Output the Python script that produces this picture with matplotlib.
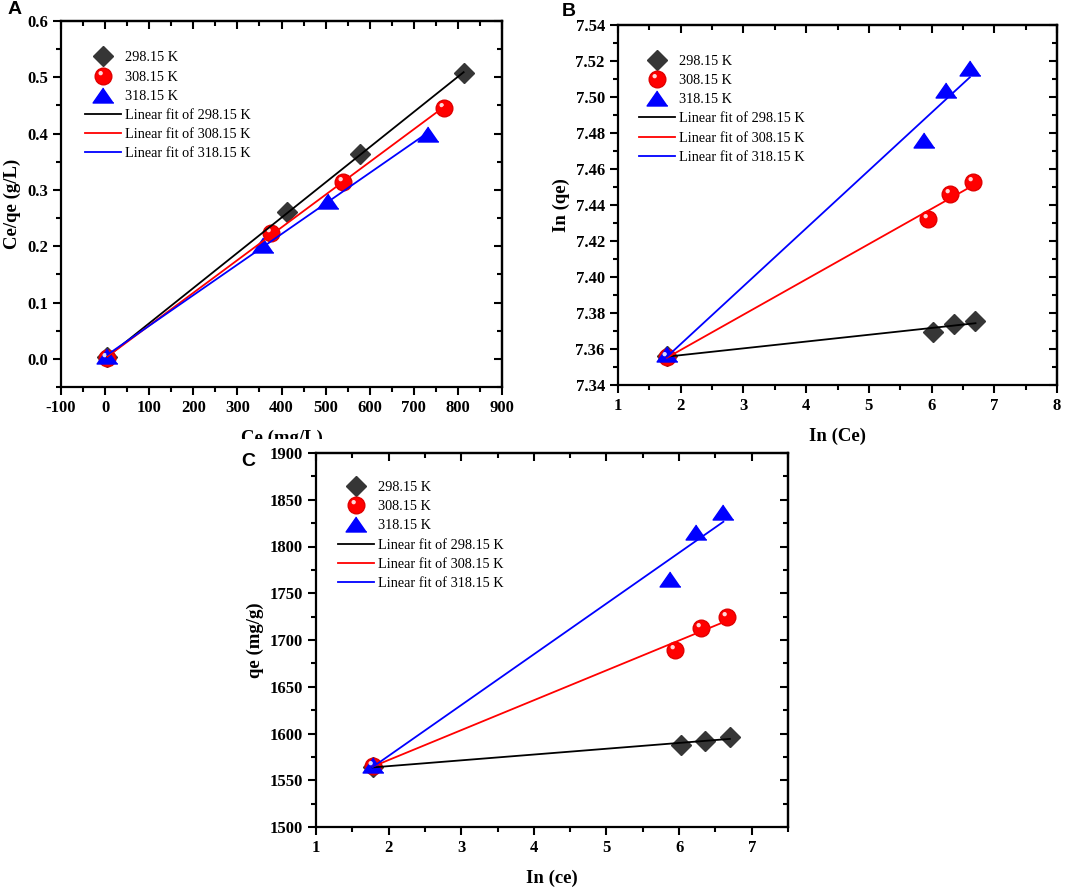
import numpy as np
import matplotlib
matplotlib.use('Agg')
import matplotlib.pyplot as plt
from matplotlib.path import Path
from matplotlib.patches import Rectangle
from matplotlib.ticker import MultipleLocator, FormatStrFormatter

plt.rcParams['font.family'] = ['Liberation Serif', 'DejaVu Serif']
plt.rcParams['font.weight'] = 'bold'
plt.rcParams['axes.labelweight'] = 'bold'
plt.rcParams['axes.unicode_minus'] = False

labels = ['298.15 K', '308.15 K', '318.15 K']
fit_labels = ['Linear fit of 298.15 K', 'Linear fit of 308.15 K', 'Linear fit of 318.15 K']

# panel A: Ce/qe vs Ce
ce_298 = [5, 413, 578, 813]
ceqe_298 = [0.003, 0.260, 0.363, 0.508]
ce_308 = [5, 377, 539, 769]
ceqe_308 = [0.002, 0.224, 0.314, 0.446]
ce_318 = [5, 357, 506, 733]
ceqe_318 = [0.005, 0.202, 0.280, 0.400]

# panel B / C: ln(Ce)
lnce_298 = [1.78, 6.03, 6.36, 6.70]
lnce_308 = [1.78, 5.94, 6.30, 6.655]
lnce_318 = [1.78, 5.88, 6.23, 6.61]
lnqe_298 = [7.356, 7.3696, 7.3737, 7.3756]
lnqe_308 = [7.3557, 7.432, 7.4459, 7.4528]
lnqe_318 = [7.357, 7.476, 7.5039, 7.5159]
qe_298 = [1564, 1588, 1592.3, 1595.9]
qe_308 = [1565.6, 1689, 1712.5, 1724.6]
qe_318 = [1566.7, 1765, 1815, 1836.5]

W, H = 1072, 890
fig = plt.figure(figsize=(W / 100, H / 100), dpi=100)


def px_axes(l, t, r, b):
    return fig.add_axes([l / W, 1 - b / H, (r - l) / W, (b - t) / H])


# shiny highlight marker for the red spheres
circ = Path.circle(center=(-0.17, 0.2), radius=0.13)
hl_path = Path(np.vstack([[0.5, 0.5], circ.vertices]),
               np.concatenate([[Path.MOVETO], circ.codes]))
tri = [(0, 0.72), (-1, -0.72), (1, -0.72)]


def panel(ax, xs, ys, leg_xy):
    p1, = ax.plot(xs[0], ys[0], linestyle='none', marker='D', ms=10.5,
                  color='#363636', zorder=3)
    p2, = ax.plot(xs[1], ys[1], linestyle='none', marker='o', ms=12,
                  color='#ff0000', mec='#e00000', zorder=3)
    p2h, = ax.plot(xs[1], ys[1], linestyle='none', marker=hl_path, ms=12,
                   mfc='white', mec='none', alpha=0.85, zorder=3.1)
    p3, = ax.plot(xs[2], ys[2], linestyle='none', marker=tri, ms=15,
                  color='#0000ff', zorder=3)
    h = [p1, (p2, p2h), p3]
    for x, y, c in zip(xs, ys, ['black', 'red', 'blue']):
        k, b0 = np.polyfit(x, y, 1)
        xx = np.array([min(x), max(x)])
        ln, = ax.plot(xx, k * xx + b0, color=c, lw=1.3, zorder=4)
        h.append(ln)
    ax.legend(h, labels + fit_labels, loc='upper left', bbox_to_anchor=leg_xy,
              frameon=False, borderpad=0, borderaxespad=0, handlelength=2.5,
              handletextpad=0.3, labelspacing=0.43,
              prop={'family': 'Liberation Serif', 'weight': 'normal', 'size': 10.3})
    for s in ax.spines.values():
        s.set_linewidth(1.6)
    ax.tick_params(which='both', width=1.5, labelsize=12)
    ax.tick_params(which='major', length=6)
    ax.tick_params(which='minor', length=3.5)
    ax.tick_params(which='both', left=True, bottom=True, direction='out')
    # inward ticks on top and right
    sec_x = ax.secondary_xaxis('top')
    sec_y = ax.secondary_yaxis('right')
    for sec in (sec_x, sec_y):
        sec.tick_params(which='both', direction='in', width=1.5, labelsize=0)
        sec.tick_params(which='major', length=6)
        sec.tick_params(which='minor', length=3.5)
        for s in sec.spines.values():
            s.set_linewidth(1.6)
    return sec_x, sec_y


def set_ticks(ax, secs, xmaj, xmin, ymaj, ymin):
    ax.xaxis.set_major_locator(MultipleLocator(xmaj))
    ax.xaxis.set_minor_locator(MultipleLocator(xmin))
    ax.yaxis.set_major_locator(MultipleLocator(ymaj))
    ax.yaxis.set_minor_locator(MultipleLocator(ymin))
    secs[0].xaxis.set_major_locator(MultipleLocator(xmaj))
    secs[0].xaxis.set_minor_locator(MultipleLocator(xmin))
    secs[1].yaxis.set_major_locator(MultipleLocator(ymaj))
    secs[1].yaxis.set_minor_locator(MultipleLocator(ymin))
    secs[0].set_xticklabels([])
    secs[1].set_yticklabels([])


# A
axA = px_axes(61, 21, 502, 387)
secs = panel(axA, [ce_298, ce_308, ce_318], [ceqe_298, ceqe_308, ceqe_318], (0.054, 0.917))
axA.set_xlim(-100, 900)
axA.set_ylim(-0.05, 0.6)
set_ticks(axA, secs, 100, 50, 0.1, 0.05)
axA.yaxis.set_major_formatter(FormatStrFormatter('%.1f'))
axA.set_ylabel('Ce/qe (g/L)', fontsize=13.5, labelpad=4)
axA.set_xlabel('Ce (mg/L)', fontsize=13.5, labelpad=10)

# B
axB = px_axes(618, 25, 1057, 385)
secs = panel(axB, [lnce_298, lnce_308, lnce_318], [lnqe_298, lnqe_308, lnqe_318], (0.048, 0.917))
axB.set_xlim(1, 8)
axB.set_ylim(7.34, 7.54)
set_ticks(axB, secs, 1, 0.5, 0.02, 0.01)
axB.yaxis.set_major_formatter(FormatStrFormatter('%.2f'))
axB.set_ylabel('In (qe)', fontsize=13.5, labelpad=4)
axB.set_xlabel('In (Ce)', fontsize=13.5, labelpad=10)

# white block where panel C was pasted over the A label
fig.patches.append(Rectangle((220 / W, 0), (800 - 220) / W, 1 - 439 / H,
                             transform=fig.transFigure, facecolor='white',
                             edgecolor='none', zorder=0.5))

# C
axC = px_axes(316, 453, 788, 827)
axC.set_zorder(1)
secs = panel(axC, [lnce_298, lnce_308, lnce_318], [qe_298, qe_308, qe_318], (0.047, 0.925))
axC.set_xlim(1, 7.5)
axC.set_ylim(1500, 1900)
set_ticks(axC, secs, 1, 0.5, 50, 25)
axC.set_ylabel('qe (mg/g)', fontsize=13.5, labelpad=4)
axC.set_xlabel('In (ce)', fontsize=13.5, labelpad=10)

for s, x, y in [('A', 8, 10), ('B', 562, 12), ('C', 241, 462)]:
    fig.text(x / W, 1 - y / H, s, family='Liberation Sans', weight='bold',
             fontsize=14, ha='left', va='center')

fig.savefig('out.png', dpi=100)
